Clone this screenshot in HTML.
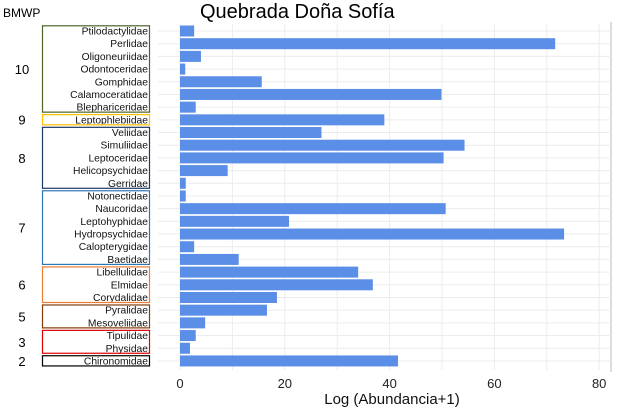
<!DOCTYPE html>
<html><head><meta charset="utf-8"><style>
body{margin:0;background:#fff;}
svg text{font-family:"Liberation Sans",sans-serif;}
</style></head><body>
<svg id="c" width="618" height="412" xmlns="http://www.w3.org/2000/svg">
<text x="200" y="18" font-size="20" fill="#000">Quebrada Doña Sofía</text>
<text x="3" y="17" font-size="12" fill="#000">BMWP</text>
<text x="392" y="404" font-size="15" text-anchor="middle" fill="#111">Log (Abundancia+1)</text>
<line x1="611" y1="22" x2="611" y2="372" stroke="#bbb" stroke-width="1"/>
<g id="grid"></g><g id="bars"></g><g id="labels"></g><g id="groups"></g><g id="ticks"></g>
</svg>
<script>
const categories=["Ptilodactylidae","Perlidae","Oligoneuriidae","Odontoceridae","Gomphidae","Calamoceratidae","Blephariceridae","Leptophlebiidae","Veliidae","Simuliidae","Leptoceridae","Helicopsychidae","Gerridae","Notonectidae","Naucoridae","Leptohyphidae","Hydropsychidae","Calopterygidae","Baetidae","Libellulidae","Elmidae","Corydalidae","Pyralidae","Mesoveliidae","Tipulidae","Physidae","Chironomidae"];
const values=[2.7,71.6,4,1,15.6,49.9,3,39,27,54.3,50.3,9.1,1.1,1.1,50.7,20.8,73.3,2.7,11.2,34,36.8,18.5,16.6,4.8,3,1.9,41.6];
const groupScores=["10","9","8","7","6","5","3","2"];
const groupSizes=[7,1,5,6,3,2,2,1];
const groupColors=["#4f6228","#ffc000","#1f3864","#2e75b6","#ed7d31","#843c0c","#e00000","#000000"];
const xTicks=[0,20,40,60,80];
const NS="http://www.w3.org/2000/svg";
const x0=180,pxPer=5.24,yTop=31,step=12.69;
const xs=v=>x0+v*pxPer, ys=i=>yTop+i*step;
function mk(t,a,p){const e=document.createElementNS(NS,t);for(const k in a)e.setAttribute(k,a[k]);document.getElementById(p).appendChild(e);return e;}
for(let v=0;v<=80;v+=10){const l=mk('line',{x1:xs(v),x2:xs(v),y1:24,y2:370,stroke:'#ececec'},'grid');

}
categories.forEach((c,i)=>{
const g=mk('line',{x1:158,x2:611,y1:ys(i),y2:ys(i),stroke:'#ececec'},'grid');


const r=mk('rect',{x:x0,y:ys(i)-5.5,width:xs(values[i])-x0,height:11,fill:'#5b8ee6'},'bars');


const t=mk('text',{x:148,y:ys(i)+3.5,'font-size':'10.3','text-anchor':'end',fill:'#111'},'labels');
t.textContent=c;


});
let idx=0;
groupSizes.forEach((n,g)=>{
const top=ys(idx)-5.2, h=(n-1)*step+10.2;
const r=mk('rect',{x:42.5,y:top,width:107,height:h,fill:'none',stroke:groupColors[g],'stroke-width':1.2},'groups');


const t=mk('text',{x:22,y:top+h/2+5,'font-size':'13','text-anchor':'middle',fill:'#000'},'groups');
t.textContent=groupScores[g];


idx+=n;});
xTicks.forEach(v=>{const t=mk('text',{x:xs(v),y:388,'font-size':'13','text-anchor':'middle',fill:'#222'},'ticks');
t.textContent=v;

});
</script>
</body></html>
